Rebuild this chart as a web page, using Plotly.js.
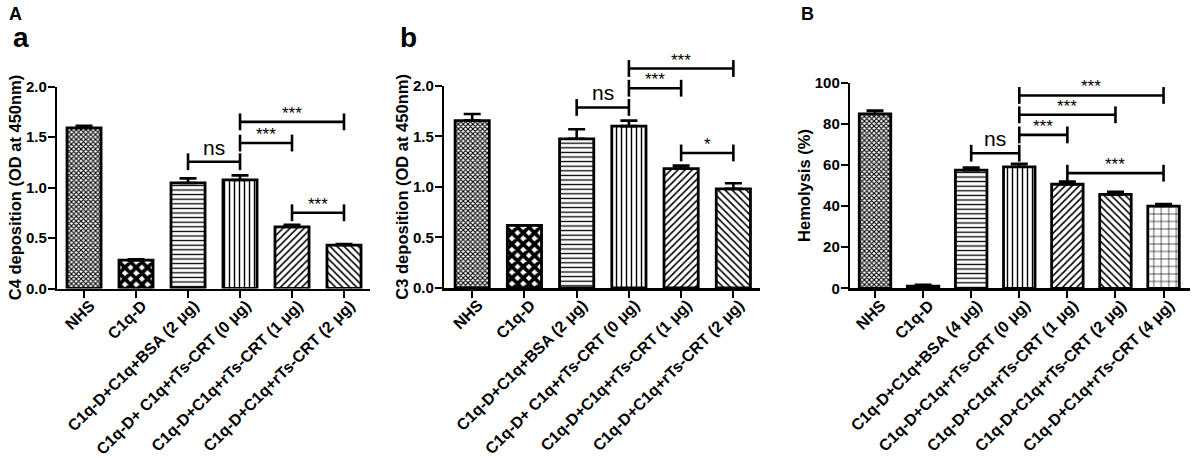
<!DOCTYPE html>
<html><head><meta charset="utf-8">
<script src="https://cdn.plot.ly/plotly-3.0.1.min.js"></script>
<style>html,body{margin:0;padding:0;background:#fff}</style>
</head><body><div id="chart" style="width:1192px;height:458px"></div>
<script>
// ---------- DATA ----------
const catsC4 = ['NHS', 'C1q-D', 'C1q-D+C1q+BSA (2 μg)', 'C1q-D+ C1q+rTs-CRT (0 μg)', 'C1q-D+C1q+rTs-CRT (1 μg)', 'C1q-D+C1q+rTs-CRT (2 μg)'];
const c4Values = [1.59, 0.28, 1.045, 1.075, 0.61, 0.43];
const c4Errors = [0.02, 0.01, 0.045, 0.045, 0.02, 0.01];
const c4Brackets = [[2, 3, 1.255, 'ns'], [3, 4, 1.44, '***'], [3, 5, 1.65, '***'], [4, 5, 0.75, '***']];

const catsC3 = ['NHS', 'C1q-D', 'C1q-D+C1q+BSA (2 μg)', 'C1q-D+ C1q+rTs-CRT (0 μg)', 'C1q-D+C1q+rTs-CRT (1 μg)', 'C1q-D+C1q+rTs-CRT (2 μg)'];
const c3Values = [1.655, 0.62, 1.475, 1.60, 1.18, 0.98];
const c3Errors = [0.065, 0.0, 0.095, 0.055, 0.03, 0.055];
const c3Brackets = [[2, 3, 1.785, 'ns'], [3, 4, 1.975, '***'], [3, 5, 2.17, '***'], [4, 5, 1.335, '*']];

const catsHemo = ['NHS', 'C1q-D', 'C1q-D+C1q+BSA (4 μg)', 'C1q-D+C1q+rTs-CRT (0 μg)', 'C1q-D+C1q+rTs-CRT (1 μg)', 'C1q-D+C1q+rTs-CRT (2 μg)', 'C1q-D+C1q+rTs-CRT (4 μg)'];
const hemoValues = [84.8, 1.1, 57.5, 59.1, 50.6, 45.7, 40.0];
const hemoErrors = [1.6, 0.6, 1.2, 1.5, 1.3, 1.2, 1.0];
const hemoBrackets = [[2, 3, 65.7, 'ns'], [3, 4, 74.6, '***'], [3, 5, 84.4, '***'], [3, 6, 93.8, '***'], [4, 6, 56.0, '***']];

const c4Ticks = [0, 0.5, 1.0, 1.5, 2.0];
const c3Ticks = [0, 0.5, 1.0, 1.5, 2.0];
const hemoTicks = [0, 20, 40, 60, 80, 100];

// ---------- STYLE ----------
const FONT = 'Liberation Sans, Arial, Helvetica, sans-serif';
const patShapes = ['x', 'x', '-', '|', '/', '\\', '+'];
const patSizes = [3.4, 8, 4.6, 5, 5, 5, 7.5];
const patSolid = [0.55, 0.72, 0.28, 0.28, 0.32, 0.32, 0.16];

const panels = [
  {cats: catsC4, vals: c4Values, errs: c4Errors, br: c4Brackets, ticks: c4Ticks, dec: 1,
   title: 'C4 deposition (OD at 450nm)', xdom: [57/1192, 370/1192], px0: 288.5, pxTop: 86.5,
   xr: [-0.52, 5.5], sigTop: 2.4},
  {cats: catsC3, vals: c3Values, errs: c3Errors, br: c3Brackets, ticks: c3Ticks, dec: 1,
   title: 'C3 deposition (OD at 450nm)', xdom: [444/1192, 760/1192], px0: 288, pxTop: 85.7,
   xr: [-0.54, 5.51], sigTop: 2.4},
  {cats: catsHemo, vals: hemoValues, errs: hemoErrors, br: hemoBrackets, ticks: hemoTicks, dec: 0,
   title: 'Hemolysis (%)', xdom: [850/1192, 1190/1192], px0: 288.3, pxTop: 82.7,
   xr: [-0.52, 6.55], sigTop: 112}
];

const H = 458;
const traces = [];
const layout = {
  width: 1192, height: 458,
  margin: {l: 0, r: 0, t: 0, b: 0},
  paper_bgcolor: 'white', plot_bgcolor: 'rgba(0,0,0,0)',
  showlegend: false,
  font: {family: FONT, color: 'black'},
  annotations: [],
  shapes: []
};

panels.forEach((p, i) => {
  const n = i + 1;
  const xs = n === 1 ? '' : String(n);
  const xid = 'x' + xs, yid = 'y' + xs;
  const sigN = n + 3;
  const sid = 'y' + sigN;
  const idx = p.cats.map((_, k) => k);
  const axisTop = p.ticks[p.ticks.length - 1];
  const d0 = (H - p.px0) / H, d1 = (H - p.pxTop) / H;

  traces.push({
    type: 'bar', x: idx, y: p.vals, xaxis: xid, yaxis: yid,
    width: 0.655,
    marker: {
      color: 'white',
      line: {color: 'black', width: 2.8},
      pattern: {
        shape: patShapes.slice(0, p.cats.length),
        size: patSizes.slice(0, p.cats.length),
        solidity: patSolid.slice(0, p.cats.length),
        fgcolor: 'black', bgcolor: 'white', fillmode: 'replace'
      }
    },
    error_y: {type: 'data', symmetric: false, array: p.errs, arrayminus: p.errs.map(() => 0),
              color: 'black', thickness: 2.6, width: 8.5},
    hoverinfo: 'skip'
  });

  p.br.forEach(b => {
    traces.push({
      type: 'scatter', mode: 'lines+markers', x: [b[0], b[1]], y: [b[2], b[2]],
      xaxis: xid, yaxis: sid,
      line: {color: 'black', width: 2.6},
      marker: {symbol: 'line-ns-open', size: 12, line: {color: 'black', width: 2.6}},
      hoverinfo: 'skip', cliponaxis: false
    });
    const isNs = b[3] === 'ns';
    layout.annotations.push({
      xref: xid, yref: sid, x: (b[0] + b[1]) / 2, y: b[2],
      text: b[3], showarrow: false, yanchor: 'bottom',
      yshift: isNs ? 1 : -3,
      font: {family: FONT, size: isNs ? 21 : 17, color: 'black'}
    });
  });

  const xKey = 'xaxis' + xs, yKey = 'yaxis' + xs, sKey = 'yaxis' + sigN;
  layout[xKey] = {
    domain: p.xdom, range: p.xr, anchor: yid,
    tickmode: 'array', tickvals: idx, ticktext: p.cats, tickangle: -45,
    showline: true, linecolor: 'black', linewidth: 2.6,
    ticks: 'outside', ticklen: 7, tickwidth: 2, tickcolor: 'black',
    tickfont: {family: FONT, size: 16, color: 'black', weight: 'bold'},
    ticklabelshift: 6, ticklabelstandoff: -8,
    showgrid: false, zeroline: false, automargin: false, fixedrange: true
  };
  layout[yKey] = {
    domain: [d0, d1], range: [0, axisTop], anchor: xid,
    tickmode: 'array', tickvals: p.ticks, ticktext: p.ticks.map(t => t.toFixed(p.dec)),
    showline: true, linecolor: 'black', linewidth: 2.2,
    ticks: 'outside', ticklen: 7, tickwidth: 2, tickcolor: 'black',
    tickfont: {family: FONT, size: 15, color: 'black', weight: 'bold'},
    ticklabelstandoff: -2,
    title: {text: p.title, font: {family: FONT, size: 16.5, color: 'black', weight: 'bold'}, standoff: 0},
    showgrid: false, zeroline: false, automargin: false, fixedrange: true
  };
  layout[sKey] = {
    domain: [d0, d0 + (d1 - d0) * p.sigTop / axisTop], range: [0, p.sigTop], anchor: xid,
    visible: false, showgrid: false, zeroline: false, fixedrange: true
  };
});

// panel letters
layout.annotations.push(
  {xref: 'paper', yref: 'paper', x: 7/1192, y: 1 - 2/H, xanchor: 'left', yanchor: 'top', text: '<b>A</b>', showarrow: false, font: {family: FONT, size: 18, color: 'black'}},
  {xref: 'paper', yref: 'paper', x: 11/1192, y: 1 - 20/H, xanchor: 'left', yanchor: 'top', text: '<b>a</b>', showarrow: false, font: {family: FONT, size: 28, color: 'black'}},
  {xref: 'paper', yref: 'paper', x: 398/1192, y: 1 - 20/H, xanchor: 'left', yanchor: 'top', text: '<b>b</b>', showarrow: false, font: {family: FONT, size: 28, color: 'black'}},
  {xref: 'paper', yref: 'paper', x: 799/1192, y: 1 - 2/H, xanchor: 'left', yanchor: 'top', text: '<b>B</b>', showarrow: false, font: {family: FONT, size: 18, color: 'black'}}
);

Plotly.newPlot('chart', traces, layout, {displayModeBar: false, staticPlot: true});
</script>
</body></html>
